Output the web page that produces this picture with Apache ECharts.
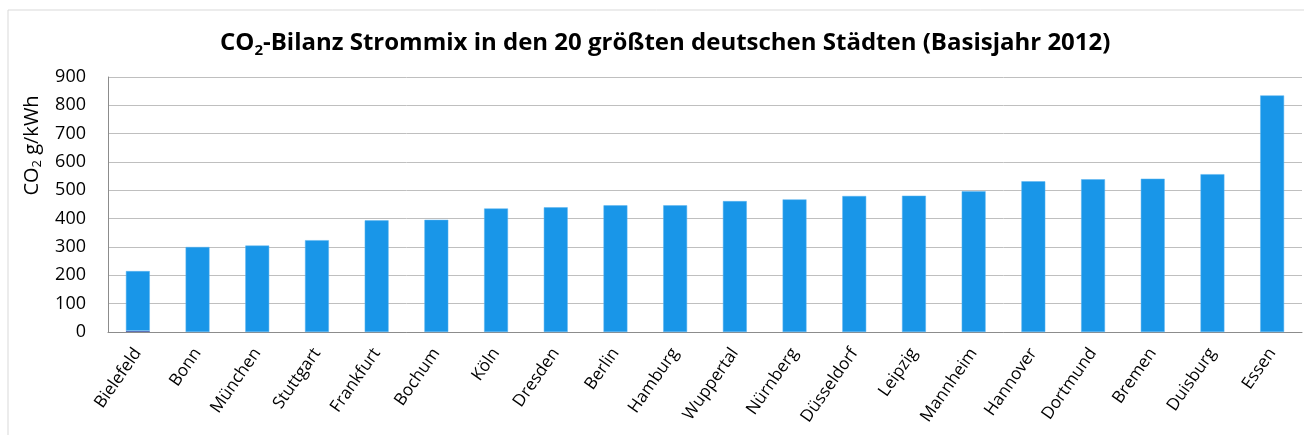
<!DOCTYPE html>
<html>
<head>
<meta charset="utf-8">
<script src="https://cdn.jsdelivr.net/npm/echarts@6/dist/echarts.min.js"></script>
<style>
  html, body { margin: 0; padding: 0; background: #fff; }
  #main { width: 1304px; height: 435px; }
</style>
</head>
<body>
<div id="main"></div>
<script>
// Städte, sortiert wie im Original
var cities = ["Bielefeld", "Bonn", "München", "Stuttgart", "Frankfurt", "Bochum", "Köln", "Dresden",
  "Berlin", "Hamburg", "Wuppertal", "Nürnberg", "Düsseldorf", "Leipzig", "Mannheim", "Hannover",
  "Dortmund", "Bremen", "Duisburg", "Essen"];
// CO2 g/kWh
var co2 = [215, 300, 305, 324, 394, 396, 436, 440, 447, 447, 462, 468, 480, 481, 497, 532, 539, 541, 557, 835];
// kleiner Sockel bei Bielefeld
var baseSeg = [4, null, null, null, null, null, null, null, null, null, null, null, null, null, null, null, null, null, null, null];
var yTicks = [0, 100, 200, 300, 400, 500, 600, 700, 800, 900];

var mainVals = co2.map(function (v, i) { return baseSeg[i] ? v - baseSeg[i] : v; });

var font = "Open Sans";
var chart = echarts.init(document.getElementById("main"));

var option = {
  animation: false,
  textStyle: { fontFamily: font },
  title: {
    text: "{b|CO}{s|2}{b|-Bilanz Strommix in den 20 größten deutschen Städten (Basisjahr 2012)}",
    left: 215,
    top: 24,
    textStyle: {
      rich: {
        b: { fontFamily: font, fontWeight: "bold", fontSize: 24, color: "#000" },
        s: { fontFamily: font, fontWeight: "bold", fontSize: 15, color: "#000", padding: [14, 0, 0, 0] }
      }
    }
  },
  graphic: [{
    type: "rect",
    shape: { x: 8, y: 10, width: 1310, height: 440 },
    style: { fill: "none", stroke: "#d9d9d9", lineWidth: 1 },
    silent: true
  }],
  grid: { left: 108, right: 2, top: 77, bottom: 103 },
  xAxis: {
    type: "category",
    data: cities,
    axisLine: { lineStyle: { color: "#8c8c8c" } },
    axisTick: { show: false },
    axisLabel: { rotate: 55, fontSize: 17, color: "#000", margin: 18, interval: 0 }
  },
  yAxis: {
    type: "value",
    min: yTicks[0],
    max: yTicks[yTicks.length - 1],
    interval: 100,
    name: "CO{s|2} g/kWh",
    nameLocation: "middle",
    nameGap: 61,
    nameTextStyle: {
      fontSize: 20, color: "#000", padding: [0, 0, 0, 118],
      rich: { s: { fontSize: 13, color: "#000", padding: [11, 0, 0, 0] } }
    },
    axisLine: { show: true, lineStyle: { color: "#8c8c8c" } },
    axisTick: { show: false },
    axisLabel: { fontSize: 18, color: "#000", margin: 22 },
    splitLine: { lineStyle: { color: "#bfbfbf" } }
  },
  series: [{
    type: "bar",
    stack: "a",
    data: baseSeg,
    barWidth: "40%",
    itemStyle: { color: "#5b6db4" }
  }, {
    type: "bar",
    stack: "a",
    data: mainVals,
    barWidth: "40%",
    itemStyle: { color: "#1996e8", borderColor: "#5ab4f0", borderWidth: 0.5 }
  }]
};

chart.setOption(option);
</script>
</body>
</html>
